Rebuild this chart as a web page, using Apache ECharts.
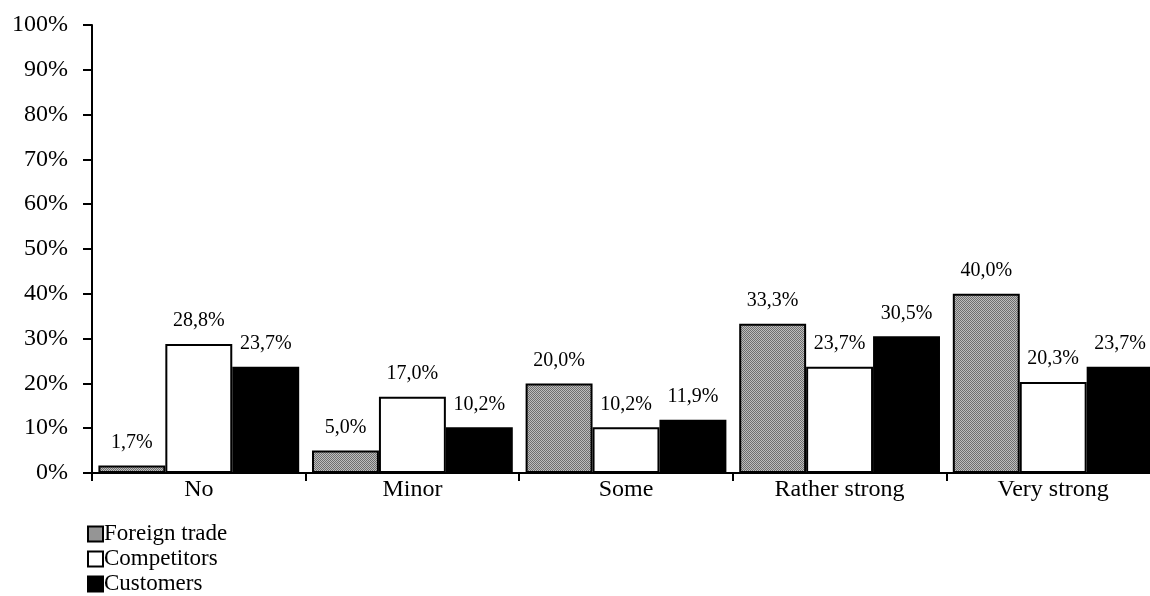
<!DOCTYPE html>
<html><head><meta charset="utf-8">
<script src="https://cdn.jsdelivr.net/npm/echarts@6/dist/echarts.min.js"></script>
<style>html,body{margin:0;padding:0;background:#fff;overflow:hidden;width:1150px;height:596px}#c{width:1160px;height:620px}</style>
</head><body><div id="c"></div>
<script>
const categories = ['No', 'Minor', 'Some', 'Rather strong', 'Very strong'];
const foreignTrade = [1.7, 5.0, 20.0, 33.3, 40.0];
const competitors = [28.8, 17.0, 10.2, 23.7, 20.3];
const customers = [23.7, 10.2, 11.9, 30.5, 23.7];
const seriesNames = ['Foreign trade', 'Competitors', 'Customers'];

const pc = document.createElement('canvas');
pc.width = 2; pc.height = 2;
const pctx = pc.getContext('2d');
pctx.fillStyle = '#bdbdbd'; pctx.fillRect(0,0,2,2);
pctx.fillStyle = '#6e6e6e'; pctx.fillRect(0,0,1,1); pctx.fillRect(1,1,1,1);
const grayPattern = { image: pc, repeat: 'repeat' };

const font = 'Liberation Serif';
const fills = [grayPattern, '#ffffff', '#000000'];
const datas = [foreignTrade, competitors, customers];

const chart = echarts.init(document.getElementById('c'), null, {renderer: 'canvas'});
chart.setOption({
  animation: false,
  backgroundColor: '#fff',
  textStyle: { fontFamily: font },
  grid: { left: 92, top: 25, right: 0, bottom: 147, containLabel: false },
  legend: {
    orient: 'vertical', left: 82, top: 517,
    itemWidth: 15, itemHeight: 15, itemGap: 1,
    icon: 'rect',
    textStyle: { fontFamily: font, fontSize: 23, color: '#000', lineHeight: 24, padding: [0,0,0,-4] },
    data: seriesNames
  },
  xAxis: {
    type: 'category', data: categories,
    axisLine: { lineStyle: { color: '#000', width: 2 } },
    axisTick: { show: true, alignWithLabel: false, length: 8, lineStyle: { color: '#000', width: 2 } },
    axisLabel: { color: '#000', fontSize: 24, fontFamily: font, margin: 5 },
    splitLine: { show: false }
  },
  yAxis: {
    type: 'value', min: 0, max: 100, interval: 10,
    axisLine: { show: true, lineStyle: { color: '#000', width: 2 } },
    axisTick: { show: true, inside: false, length: 9, lineStyle: { color: '#000', width: 2 } },
    axisLabel: { color: '#000', fontSize: 24, fontFamily: font, margin: 24, formatter: '{value}%' },
    splitLine: { show: false }
  },
  series: seriesNames.map((n, i) => ({
    name: n, type: 'bar', data: datas[i],
    barGap: '0%', barCategoryGap: '6%',
    itemStyle: { color: fills[i], borderColor: '#000', borderWidth: 2 },
    label: {
      show: true, position: 'top', distance: 13, color: '#000',
      fontSize: 20, fontFamily: font,
      formatter: p => p.value.toFixed(1).replace('.', ',') + '%'
    }
  }))
});
</script></body></html>
